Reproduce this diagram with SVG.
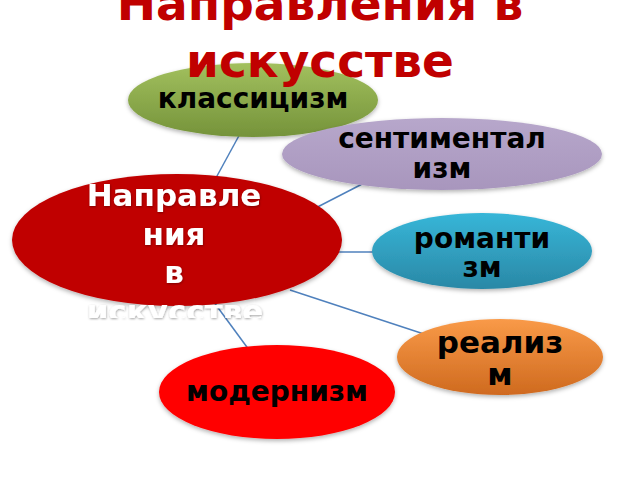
<svg xmlns="http://www.w3.org/2000/svg" width="640" height="480" viewBox="0 0 640 480">
<defs>
<linearGradient id="gGreen" x1="0" y1="0" x2="0" y2="1"><stop offset="0" stop-color="#a2c05e"/><stop offset="1" stop-color="#75933a"/></linearGradient>
<linearGradient id="gPurple" x1="0" y1="0" x2="0" y2="1"><stop offset="0" stop-color="#b7a7cb"/><stop offset="1" stop-color="#a896bd"/></linearGradient>
<linearGradient id="gTeal" x1="0" y1="0" x2="0" y2="1"><stop offset="0" stop-color="#37b6d8"/><stop offset="1" stop-color="#2a88a6"/></linearGradient>
<linearGradient id="gOrange" x1="0" y1="0" x2="0" y2="1"><stop offset="0" stop-color="#f99a48"/><stop offset="1" stop-color="#cf6a1f"/></linearGradient>
<filter id="sh" x="-10%" y="-10%" width="120%" height="130%"><feDropShadow dx="0" dy="2" stdDeviation="2" flood-color="#000" flood-opacity="0.3"/></filter>
<filter id="tsh" x="-10%" y="-20%" width="120%" height="150%"><feDropShadow dx="0.5" dy="1" stdDeviation="1" flood-color="#000" flood-opacity="0.35"/></filter>
<clipPath id="cclip"><rect x="0" y="160" width="360" height="158"/></clipPath>
</defs>
<style>
.t{font-family:"DejaVu Sans",Verdana,sans-serif;font-weight:bold;text-anchor:middle;}
.title{font-size:47px;fill:#c00000;}
.lbl{font-size:28px;fill:#000;}
.big{font-size:31px;}
.ctr{font-size:31px;fill:#fff;}
.conn{stroke:#4f81bd;stroke-width:1.5;fill:none;}
</style>
<g id="connectors">
<line class="conn" x1="205" y1="198" x2="241" y2="132"/>
<line class="conn" x1="300" y1="216" x2="370" y2="180"/>
<line class="conn" x1="330" y1="252" x2="380" y2="252"/>
<line class="conn" x1="290" y1="290" x2="430" y2="336"/>
<line class="conn" x1="205" y1="290" x2="252" y2="354"/>
</g>
<g id="classicism"><ellipse cx="253" cy="100" rx="125" ry="37" fill="url(#gGreen)" filter="url(#sh)"/><text class="t lbl" x="253" y="108">классицизм</text></g>
<g id="sentimentalism"><ellipse cx="442" cy="154" rx="160" ry="36" fill="url(#gPurple)" filter="url(#sh)"/><text class="t lbl" x="442" y="148">сентиментал</text><text class="t lbl" x="442" y="178">изм</text></g>
<g id="romanticism"><ellipse cx="482" cy="251" rx="110" ry="38" fill="url(#gTeal)" filter="url(#sh)"/><text class="t lbl" x="482" y="248">романти</text><text class="t lbl" x="482" y="277">зм</text></g>
<g id="realism"><ellipse cx="500" cy="357" rx="103" ry="38" fill="url(#gOrange)" filter="url(#sh)"/><text class="t lbl big" x="500" y="353">реализ</text><text class="t lbl big" x="500" y="385">м</text></g>
<g id="modernism"><ellipse cx="277" cy="392" rx="118" ry="47" fill="#ff0000" filter="url(#sh)"/><text class="t lbl" x="277" y="401">модернизм</text></g>
<g id="center"><ellipse cx="177" cy="240" rx="165" ry="66" fill="#c00000" filter="url(#sh)"/>
<g filter="url(#tsh)"><text class="t ctr" x="174" y="206">Направле</text><text class="t ctr" x="174" y="245">ния</text><text class="t ctr" x="174" y="283">в</text><text class="t ctr" x="175" y="322" clip-path="url(#cclip)">искусстве</text></g></g>
<g id="title"><text class="t title" x="320" y="20">Направления в</text><text class="t title" x="320" y="77">искусстве</text></g>
</svg>
